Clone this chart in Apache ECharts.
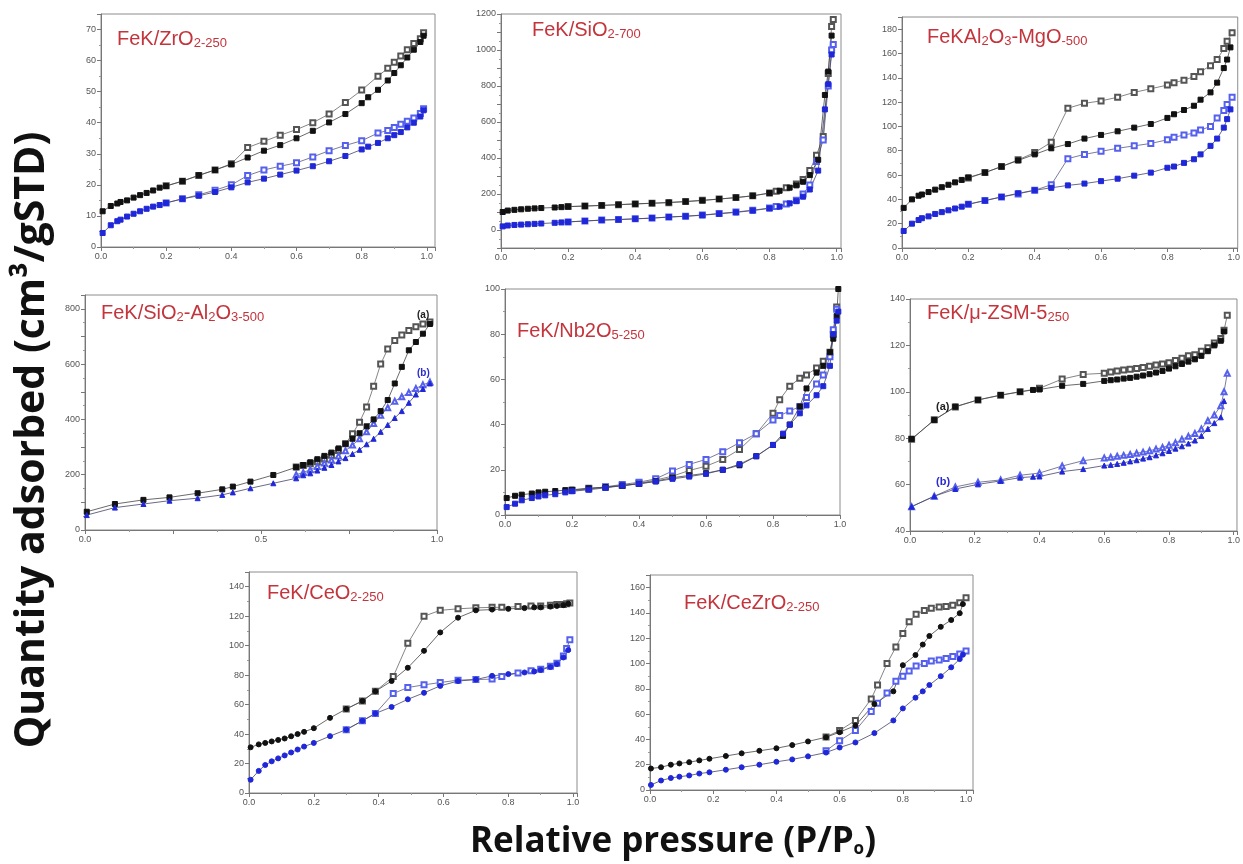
<!DOCTYPE html>
<html>
<head>
<meta charset="utf-8">
<title>BET isotherms</title>
<script src="https://cdn.jsdelivr.net/npm/echarts@6/dist/echarts.min.js"></script>
<style>
    html, body {margin: 0; padding: 0; background: #fff;}
    #main {width: 1243px; height: 864px;}
</style>
</head>
<body>
<div id="main"></div>
<script>
// ---- FeK/ZrO2-250 ----
var p1Ads = [0.005,0.03,0.05,0.06,0.08,0.10,0.12,0.14,0.16,0.18,0.20,0.25,0.30,0.35,0.40,0.45,0.50,0.55,0.60,0.65,0.70,0.75,0.80,0.82,0.85,0.88,0.90,0.92,0.94,0.96,0.98,0.99];
var zrAdsA = [11.5,13.2,14.0,14.5,15.0,15.9,16.7,17.4,18.2,19.1,19.6,21.2,23.1,24.8,26.6,28.8,31.0,32.8,35.0,37.4,40.1,42.8,46.3,48.2,50.6,53.6,56.0,58.5,61.0,63.5,66.0,68.0];
var zrAdsB = [4.5,7.0,8.3,8.8,9.8,10.7,11.5,12.3,13.0,13.5,14.2,15.5,16.5,17.7,19.2,20.8,22.0,23.3,24.6,26.0,27.6,29.3,31.4,32.3,33.5,35.0,36.0,37.0,38.5,40.0,42.0,44.0];
var p1Des = [0.99,0.98,0.96,0.94,0.92,0.90,0.88,0.85,0.80,0.75,0.70,0.65,0.60,0.55,0.50,0.45,0.40,0.35,0.30,0.25,0.20];
var zrDesA = [69,67,65.5,63.5,61.5,59.5,57.5,55,50.5,46.5,42.8,40,37.8,36,34,32,26.8,24.8,23,21.2,19.7];
var zrDesB = [44.5,43,41.5,40.5,39.5,38.5,37.5,36.7,34.2,32.7,31,29,27.1,26,24.8,23,20,18.3,16.8,15.5,14.2];

// ---- FeK/SiO2-700 ----
var p2Ads = [0.005,0.02,0.04,0.06,0.08,0.10,0.12,0.16,0.18,0.20,0.25,0.30,0.35,0.40,0.45,0.50,0.55,0.60,0.65,0.70,0.75,0.80,0.83,0.86,0.88,0.90,0.92,0.945,0.965,0.975,0.985];
var siAdsA = [100,108,112,115,118,120,122,125,127,130,133,137,141,145,149,153,158,164,172,180,190,205,218,235,248,268,305,390,750,880,1080];
var siAdsB = [20,25,28,30,32,34,36,40,42,45,50,55,58,62,66,72,76,82,90,98,108,120,130,148,160,185,225,330,670,810,975];
var p2Des = [0.99,0.985,0.975,0.96,0.94,0.92,0.90,0.88,0.85,0.82,0.80,0.75,0.70,0.65,0.60,0.55,0.50,0.45,0.40,0.35,0.30,0.25,0.20];
var siDesA = [1170,1130,870,520,415,330,280,255,235,215,205,190,180,172,165,158,152,148,145,140,136,133,130];
var siDesB = [1030,1000,800,500,380,250,200,165,145,130,122,110,100,92,83,77,72,66,62,58,55,50,45];

// ---- FeKAl2O3-MgO-500 ----
var p3Ads = [0.005,0.03,0.05,0.06,0.08,0.10,0.12,0.14,0.16,0.18,0.20,0.25,0.30,0.35,0.40,0.45,0.50,0.55,0.60,0.65,0.70,0.75,0.80,0.82,0.85,0.88,0.90,0.93,0.95,0.97,0.98,0.99];
var alAdsA = [33,40,43,44,46,48,50,52,54,56,58,62,67,72,77,82,85.5,90,93,96,99,102,107,110,113.5,117,122,128,136,148,155,165];
var alAdsB = [14,20,23,24.5,26,28,29.5,31,32.5,34,36,39,42,45,47.5,49.5,51.5,53,55,57,59.5,62,66,67,70,73,77,84,90,99,106,114];
var p3Des = [0.995,0.98,0.97,0.95,0.93,0.90,0.88,0.85,0.82,0.80,0.75,0.70,0.65,0.60,0.55,0.50,0.45,0.40,0.35,0.30,0.25,0.20];
var alDesA = [177,170,164,155,150,145,141,138,136,134,131,128,124,121,119,115,87,78.5,72.5,67,62,57.5];
var alDesB = [124,118,113,107,100,97,94.5,93,91,89,86,84,82,79.5,77,73.5,52,47.5,44.5,42,39,36];

// ---- FeK/SiO2-Al2O3-500 ----
var p4Ads = [0.005,0.085,0.166,0.24,0.32,0.39,0.42,0.47,0.535,0.60,0.62,0.64,0.66,0.68,0.70,0.72,0.74,0.76,0.78,0.80,0.82,0.84,0.86,0.88,0.90,0.92,0.94,0.96,0.98];
var saAdsA = [66,94,109,118,133,147,157,175,199,227,235,245,256,268,280,295,312,330,350,375,400,430,470,530,590,650,680,710,745];
var saAdsB = [54,81,94,106,115,127,136,151,169,187,198,205,215,225,235,248,260,275,290,310,330,355,380,405,430,460,490,510,530];
var p4Des = [0.98,0.96,0.94,0.92,0.90,0.88,0.86,0.84,0.82,0.80,0.78,0.76,0.74,0.72,0.70,0.68,0.66,0.64,0.62,0.60];
var saDesA = [752,745,735,722,705,685,655,600,520,445,390,348,312,288,270,257,247,240,233,228];
var saDesB = [535,525,512,497,482,466,442,415,385,355,330,307,287,268,253,242,230,218,208,200];

// ---- FeK/Nb2O5-250 ----
var p5Ads = [0.005,0.03,0.05,0.08,0.10,0.12,0.15,0.18,0.20,0.25,0.30,0.35,0.40,0.45,0.50,0.55,0.60,0.65,0.70,0.75,0.80,0.83,0.85,0.88,0.90,0.93,0.95,0.97,0.98,0.99,0.995];
var nbAdsA = [7.5,8.5,9,9.5,10,10.3,10.6,11,11.2,11.8,12.3,13,13.8,15,16.5,17.5,18.5,20,22,26,31,35,40,48,56,63,66,72,78,88,100];
var nbAdsB = [3.5,5,6.5,7.5,8.2,8.7,9.2,10,10.5,11.2,12,13,13.8,14.8,16,17,18.2,20,22.5,26,31,36,40,45,48.5,53,57,66,80,86,90];
var p5Des = [0.99,0.98,0.97,0.95,0.93,0.90,0.88,0.85,0.82,0.80,0.75,0.70,0.65,0.60,0.55,0.50,0.45,0.40,0.35,0.30,0.25,0.20];
var nbDesA = [92,80,72,68,65,62,60.5,57,51,45,36,29,24.6,21.6,19.7,17.2,15.5,14,13,12.3,11.8,11];
var nbDesB = [91,82,70,62,58,52,48,46,44,42,36,32,28,24.6,22.4,19.5,16,14.5,13.5,12.5,11.5,10.8];

// ---- FeK/u-ZSM-5 250 ----
var p6Ads = [0.005,0.075,0.14,0.21,0.28,0.34,0.38,0.40,0.47,0.535,0.60,0.62,0.64,0.66,0.68,0.70,0.72,0.74,0.76,0.78,0.80,0.82,0.84,0.86,0.88,0.90,0.92,0.94,0.96,0.97];
var zsAdsA = [79.7,87.8,93.6,96.5,98.6,100,100.8,101,102.6,103.4,104.7,105,105.3,105.7,106,106.5,107,107.6,108.3,109,110,111,112,113,114,115.5,117.5,120,122,126];
var zsAdsB = [50.5,55,58.1,60.1,61.6,63,63.4,63.5,65.6,66.7,68.2,68.5,68.9,69.4,70,70.5,71.2,71.8,72.6,73.5,74.5,75.5,76.5,77.7,79,81,84,86.5,89,96];
var p6Des = [0.98,0.97,0.96,0.94,0.92,0.90,0.88,0.86,0.84,0.82,0.80,0.78,0.76,0.74,0.72,0.70,0.68,0.66,0.64,0.62,0.60,0.535,0.47,0.40,0.34,0.28,0.21,0.14,0.075,0.005];
var zsDesA = [133,126.5,123,121,119,117.5,116,115.5,114.5,113.5,112.5,112,111.5,111,110.5,110,109.7,109.4,109,108.5,108,107.5,105.5,101.5,100,98.5,96.5,93.5,88,79.5];
var zsDesB = [108,100,94,90,87.5,84,82,80.8,79.5,78,77,76,75.3,74.6,74,73.5,73,72.6,72.2,71.8,71.5,70.3,68,65,64,62,61,59,55,50.5];

// ---- FeK/CeO2-250 ----
var p7Ads = [0.005,0.03,0.05,0.07,0.09,0.11,0.13,0.15,0.17,0.20,0.25,0.30,0.35,0.39,0.44,0.49,0.54,0.59,0.645,0.70,0.75,0.80,0.85,0.88,0.90,0.93,0.95,0.97,0.985];
var ceAdsA = [31,33,34,35,36,37,38.5,40,41.5,44,51,57,62.5,69,76,85,96.5,109,119,124,124.5,125,125.5,126,126,126.5,127,127.5,128.5];
var ceAdsB = [9,15,19,21.5,23.5,25.5,27.5,29.5,31.5,34,38.6,43,49,54,58.4,63.6,68,72.7,76,77,79.5,80.7,81.8,82.5,83.5,85.5,87.5,92,97];
var p7Des = [0.99,0.98,0.97,0.95,0.93,0.90,0.87,0.83,0.78,0.75,0.70,0.645,0.59,0.54,0.49,0.445,0.39,0.35,0.30];
var ceDesA = [129,128.5,128,128,127.5,127,127,126.5,126,126,125.7,125,124,120,101.6,79,69,62.5,57];
var ceDesB = [104,98,93,88,86,84,83,81.5,79,77.3,77,76.6,75,73.4,71.6,67.5,54,49,43];

// ---- FeK/CeZrO2-250 ----
var p8Ads = [0.003,0.035,0.066,0.093,0.124,0.156,0.188,0.24,0.29,0.346,0.40,0.45,0.50,0.557,0.60,0.65,0.71,0.77,0.80,0.84,0.863,0.884,0.92,0.953,0.98,0.99];
var czAdsA = [17,18,20,21,22,23.4,24.7,26.9,29,31,33,35.5,38.4,41.7,45.7,51,68,78,98.7,106.7,115,121.8,129,134.4,139.8,147];
var czAdsB = [4,7.5,9.5,10.5,11.5,13,14,16,18,20,22.3,24.2,26.6,29.6,33.6,37.6,45,55,64.5,73,78,83,90,97,103.5,107];
var p8Des = [1.0,0.98,0.958,0.937,0.915,0.89,0.868,0.842,0.82,0.80,0.778,0.75,0.72,0.70,0.65,0.60,0.557];
var czDesA = [152,148,146,145,144.6,143.8,142,139,133,123.7,113,100,83,72,55,47,42];
var czDesB = [110,107.5,105.6,104,102.7,102,100,98,94,90,86,76.6,68.5,62,47,39,31];

var redTitle = '#c4343c';
var black = '#111111';
var blue = '#1f27d8';
var blueOpen = '#5561ee';

// 每个小图的位置、坐标轴范围和标题
var panels = [
    {grid: [101, 14, 334, 233], x: [0, 1.025, 0.2, 0.2], y: [0, 75, 10, 10],
        title: 'FeK/ZrO{s|2-250}', pos: [112, 24], ads: [p1Ads, zrAdsA, zrAdsB], des: [p1Des, zrDesA, zrDesB], symB: 'rect'},
    {grid: [501, 14, 340, 234], x: [0, 1.013, 0.2, 0.2], y: [-100, 1200, 100, 200],
        title: 'FeK/SiO{s|2-700}', pos: [527, 15], ads: [p2Ads, siAdsA, siAdsB], des: [p2Des, siDesA, siDesB], symB: 'rect'},
    {grid: [902, 17, 338, 231], x: [0, 1.012, 0.2, 0.2], y: [0, 190, 20, 20],
        title: 'FeKAl{s|2}O{s|3}-MgO{s|-500}', pos: [922, 22], ads: [p3Ads, alAdsA, alAdsB], des: [p3Des, alDesA, alDesB], symB: 'rect'},
    {grid: [85, 295, 352, 235], x: [0, 1.0, 0.25, 0.5], y: [0, 850, 100, 200],
        title: 'FeK/SiO{s|2}-Al{s|2}O{s|3-500}', pos: [96, 298], ads: [p4Ads, saAdsA, saAdsB], des: [p4Des, saDesA, saDesB], symB: 'triangle'},
    {grid: [505, 289, 335, 226], x: [0, 1.0, 0.2, 0.2], y: [0, 100, 20, 20],
        title: 'FeK/Nb2O{s|5-250}', pos: [512, 316], ads: [p5Ads, nbAdsA, nbAdsB], des: [p5Des, nbDesA, nbDesB], symB: 'rect'},
    {grid: [910, 299, 332, 232], x: [0, 1.01, 0.2, 0.2], y: [40, 140, 20, 20],
        title: 'FeK/μ-ZSM-5{s|250}', pos: [922, 298], ads: [p6Ads, zsAdsA, zsAdsB], des: [p6Des, zsDesA, zsDesB], symB: 'triangle'},
    {grid: [249, 572, 328, 221], x: [0, 1.012, 0.2, 0.2], y: [0, 150, 20, 20],
        title: 'FeK/CeO{s|2-250}', pos: [262, 578], ads: [p7Ads, ceAdsA, ceAdsB], des: [p7Des, ceDesA, ceDesB], symB: 'circle'},
    {grid: [650, 575, 323, 215], x: [0, 1.022, 0.2, 0.2], y: [0, 170, 20, 20],
        title: 'FeK/CeZrO{s|2-250}', pos: [679, 588], ads: [p8Ads, czAdsA, czAdsB], des: [p8Des, czDesA, czDesB], symB: 'circle'}
];

function pairs(px, py) {
    return px.map(function (p, i) {
        return [p, py[i]];
    });
}

// 只显示步长整数倍的刻度文字
function stepFormatter(step, digits) {
    return function (v) {
        var k = v / step;
        if (Math.abs(k - Math.round(k)) > 1e-6) {
            return '';
        }
        return digits ? v.toFixed(digits) : String(Math.round(v));
    };
}

function makeAxis(i, range, digits) {
    return {
        type: 'value',
        gridIndex: i,
        min: range[0],
        max: range[1],
        interval: range[2],
        axisLine: {show: true, onZero: false, lineStyle: {color: '#777', width: 1}},
        axisTick: {show: true, length: 4, lineStyle: {color: '#777'}},
        minorTick: {show: true, splitNumber: 2, length: 2, lineStyle: {color: '#999'}},
        splitLine: {show: false},
        axisLabel: {
            fontSize: 9, color: '#555', margin: 5, fontFamily: 'Liberation Sans',
            formatter: stepFormatter(range[3], digits)
        }
    };
}

function isoSeries(i, data, symbol, size, color, lineColor) {
    return {
        type: 'line',
        xAxisIndex: i,
        yAxisIndex: i,
        data: data,
        symbol: symbol,
        symbolSize: size,
        showSymbol: true,
        showAllSymbol: true,
        lineStyle: {width: 0.8, color: lineColor},
        itemStyle: {color: color, borderColor: color, borderWidth: 1},
        emphasis: {disabled: true},
        z: 2
    };
}

var grids = [], xAxes = [], yAxes = [], series = [], titles = [];
panels.forEach(function (pn, i) {
    grids.push({
        left: pn.grid[0], top: pn.grid[1], width: pn.grid[2], height: pn.grid[3],
        show: true, borderColor: '#8c8c8c', borderWidth: 1, backgroundColor: '#fff'
    });
    xAxes.push(makeAxis(i, pn.x, 1));
    yAxes.push(makeAxis(i, pn.y, 0));
    var emptyB = 'empty' + pn.symB.charAt(0).toUpperCase() + pn.symB.slice(1);
    // 脱附（空心）先画，吸附（实心）在上
    series.push(isoSeries(i, pairs(pn.des[0], pn.des[1]), 'emptyRect', 5, '#555', '#666'));
    series.push(isoSeries(i, pairs(pn.des[0], pn.des[2]), pn.symB === 'circle' ? 'emptyRect' : emptyB, 5, blueOpen, '#5a5a80'));
    series.push(isoSeries(i, pairs(pn.ads[0], pn.ads[1]), pn.symB === 'circle' ? 'circle' : 'rect', 5, black, '#444'));
    series.push(isoSeries(i, pairs(pn.ads[0], pn.ads[2]), pn.symB, 5, blue, '#44446a'));
    titles.push({
        text: pn.title,
        left: pn.pos[0],
        top: pn.pos[1],
        textStyle: {
            fontSize: 20, fontWeight: 'normal', color: redTitle, fontFamily: 'Liberation Sans',
            rich: {
                s: {fontSize: 13, color: redTitle, fontFamily: 'Liberation Sans', padding: [8, 0, 0, 0]}
            }
        }
    });
});

// (a) / (b) 标记
titles.push({text: '(a)', left: 412, top: 305, textStyle: {fontSize: 10, fontWeight: 'bold', color: '#222'}});
titles.push({text: '(b)', left: 412, top: 363, textStyle: {fontSize: 10, fontWeight: 'bold', color: '#2a2ad0'}});
titles.push({text: '(a)', left: 931, top: 396, textStyle: {fontSize: 11, color: '#222'}});
titles.push({text: '(b)', left: 931, top: 471, textStyle: {fontSize: 11, color: '#2a2ad0'}});

var chart = echarts.init(document.getElementById('main'), null, {renderer: 'canvas'});
chart.setOption({
    animation: false,
    backgroundColor: '#fff',
    title: titles,
    grid: grids,
    xAxis: xAxes,
    yAxis: yAxes,
    series: series,
    graphic: [
        {
            type: 'text',
            x: 32, y: 440,
            rotation: Math.PI / 2,
            style: {
                text: 'Quantity adsorbed (cm³/gSTD)',
                fontSize: 41, fontWeight: 'bold', fontFamily: 'Open Sans',
                fill: '#111', align: 'center', verticalAlign: 'middle'
            }
        },
        {
            type: 'text',
            x: 470, y: 842,
            style: {
                text: 'Relative pressure (P/P{s|o})',
                fontSize: 35, fontWeight: 'bold', fontFamily: 'Open Sans',
                fill: '#111', align: 'left', verticalAlign: 'middle',
                rich: {s: {fontSize: 17, fontWeight: 'bold', fontFamily: 'Open Sans', fill: '#111', padding: [15, 0, 0, 0]}}
            }
        }
    ]
});
</script>
</body>
</html>
